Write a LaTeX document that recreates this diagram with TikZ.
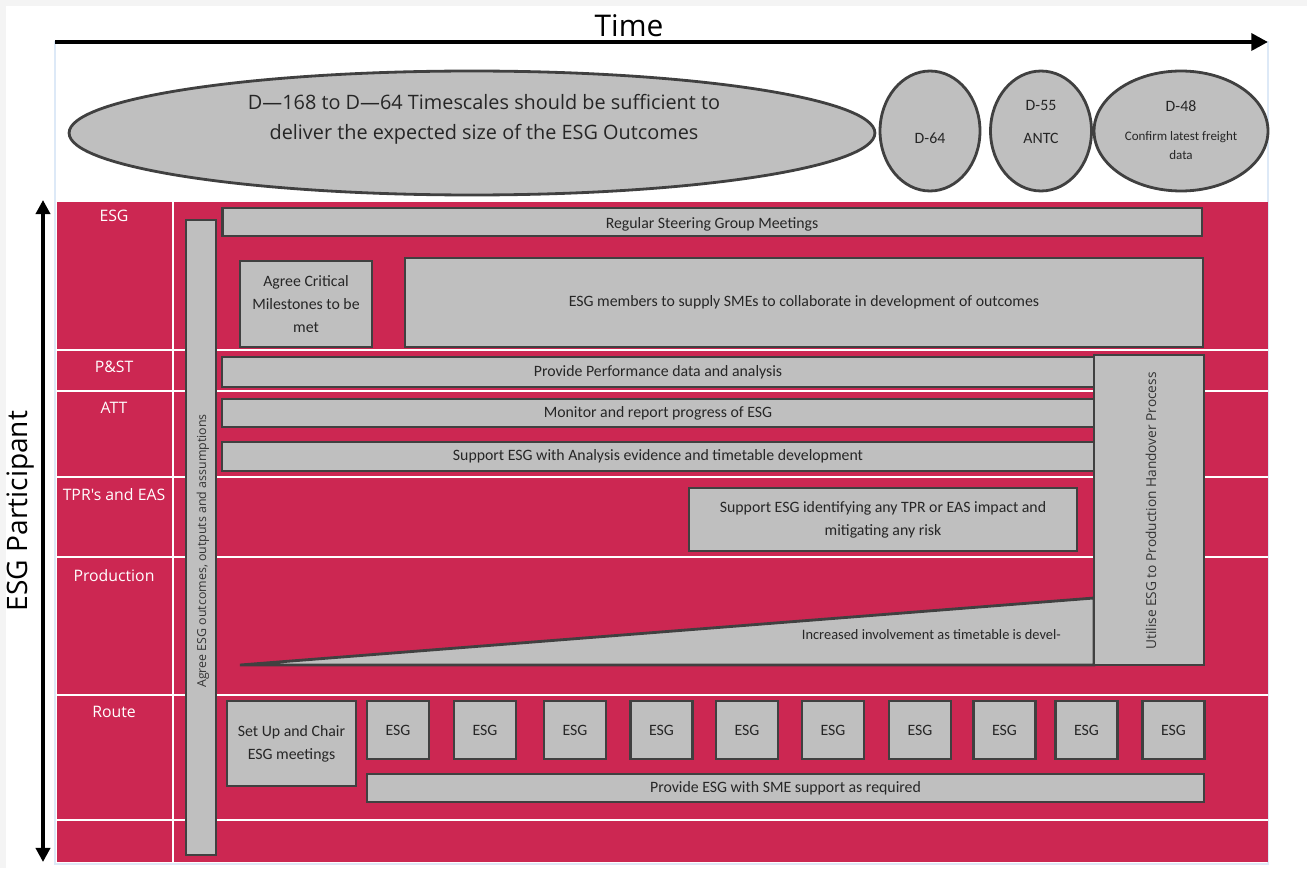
\documentclass[tikz,border=0pt]{standalone}
\usepackage{fontspec}
\setmainfont{Carlito}
\newfontfamily\railfont{Open Sans}
\usetikzlibrary{shapes.geometric,arrows.meta}

\definecolor{esgred}{HTML}{CC2752}
\definecolor{boxgrey}{HTML}{BFBFBF}
\definecolor{boxline}{HTML}{404040}
\definecolor{frameblue}{HTML}{DDE9F7}
\definecolor{pagegrey}{HTML}{F4F4F4}

\tikzset{
	pbox/.style={draw=boxline, fill=boxgrey, line width=1.6pt, inner sep=0pt, align=center, text=black!85, font=\fontsize{9}{13}\selectfont},
	esgbox/.style={pbox, minimum width=1.24cm, minimum height=1.16cm},
	oval/.style={ellipse, draw=boxline, fill=boxgrey, line width=1.6pt, inner sep=0pt},
	ovaltext/.style={align=center, text=black!85},
	rowlabel/.style={anchor=north, text=white, font=\railfont\fontsize{9}{10}\selectfont},
	sidetext/.style={rotate=90, text=black!80},
	rowline/.style={white, line width=1pt},
	timeaxis/.style={line width=2.8pt, -{Triangle[length=9.5pt,width=9.5pt]}},
	partaxis/.style={line width=2.2pt, {Triangle[length=8pt,width=8pt]}-{Triangle[length=8pt,width=8pt]}}
}

\begin{document}
\begin{tikzpicture}[x=0.02cm, y=-0.02cm]
	\useasboundingbox (0,0) rectangle (1307,868);
	\fill[pagegrey] (0,0) rectangle (1307,868);
	\fill[white] (6,6) rectangle (1307,868);
	\draw[frameblue, line width=0.6pt] (55,42) rectangle (1268,864);

	% time axis
	\coordinate (t0) at (55,42);
	\coordinate (t1) at (1268,42);
	\draw[timeaxis] (t0) -- (t1);
	\node[font=\railfont\fontsize{17}{20}\selectfont] (time) at (629,26) {Time};

	% timescale ovals
	\node[oval, minimum width=16.12cm, minimum height=2.48cm] (scale) at (472,133) {};
	\node[ovaltext, font=\railfont\fontsize{11.3}{17}\selectfont] (scaletxt) at (484,119) {D—168 to D—64 Timescales should be sufficient to\\deliver the expected size of the ESG Outcomes};
	\node[oval, minimum width=2.0cm, minimum height=2.4cm] (d64) at (930,131) {};
	\node[ovaltext, font=\fontsize{9}{10}\selectfont] (d64txt) at (930,138) {D-64};
	\node[oval, minimum width=2.02cm, minimum height=2.4cm] (d55) at (1041,131) {};
	\node[ovaltext, font=\fontsize{9}{19}\selectfont] (d55txt) at (1041,122) {D-55\\ANTC};
	\node[oval, minimum width=3.48cm, minimum height=2.4cm] (d48) at (1181,131) {};
	\node[ovaltext, font=\fontsize{7.4}{10.8}\selectfont] (d48txt) at (1181,130) {{\fontsize{9}{10}\selectfont D-48}\\[6pt]Confirm latest freight\\data};

	% participant panel
	\fill[esgred] (57,202) rectangle (1268,862);
	\draw[rowline] (57,350) -- (1268,350);
	\draw[rowline] (57,391) -- (1268,391);
	\draw[rowline] (57,477) -- (1268,477);
	\draw[rowline] (57,557) -- (1268,557);
	\draw[rowline] (57,695) -- (1268,695);
	\draw[rowline] (57,820) -- (1268,820);
	\draw[rowline] (173,202) -- (173,862);

	\coordinate (p0) at (43,862);
	\coordinate (p1) at (43,200);
	\draw[partaxis] (p0) -- (p1);
	\node[rotate=90, font=\railfont\fontsize{16}{18}\selectfont] (participant) at (21,511) {ESG Participant};

	\node[rowlabel] (lesg) at (114,204) {ESG};
	\node[rowlabel] (lpst) at (114,355) {P\&ST};
	\node[rowlabel] (latt) at (114,396) {ATT};
	\node[rowlabel] (ltpr) at (114,482) {TPR's and EAS};
	\node[rowlabel] (lprod) at (114,563) {Production};
	\node[rowlabel] (lroute) at (114,700) {Route};

	% activities
	\node[pbox, minimum width=0.6cm, minimum height=12.7cm] (agree) at (201,537.5) {};
	\node[sidetext, font=\railfont\fontsize{7.05}{8}\selectfont] (agreetxt) at (203,551) {Agree ESG outcomes, outputs and assumptions};
	\node[pbox, minimum width=19.6cm, minimum height=0.56cm, text height=9pt] (steering) at (712,222) {Regular Steering Group Meetings};
	\node[pbox, minimum width=2.64cm, minimum height=1.72cm] (milestones) at (306,304) {Agree Critical\\Milestones to be\\met};
	\node[pbox, minimum width=15.96cm, minimum height=1.78cm] (smes) at (804,302.5) {ESG members to supply SMEs to collaborate in development of outcomes};
	\node[pbox, minimum width=17.44cm, minimum height=0.6cm] (perf) at (658,372) {Provide Performance data and analysis};
	\node[pbox, minimum width=17.44cm, minimum height=0.56cm] (monitor) at (658,413) {Monitor and report progress of ESG};
	\node[pbox, minimum width=17.44cm, minimum height=0.58cm] (analysis) at (658,456.5) {Support ESG with Analysis evidence and timetable development};
	\node[pbox, minimum width=7.76cm, minimum height=1.26cm] (tpr) at (883,519.5) {Support ESG identifying any TPR or EAS impact and\\mitigating any risk};
	\draw[draw=boxline, fill=boxgrey, line width=1.6pt] (240,665) -- (1094,598) -- (1094,665) -- cycle;
	\node[anchor=east, text=black!85, font=\fontsize{8.2}{9}\selectfont] (involve) at (1067,635) {Increased involvement as timetable is devel-};
	\node[pbox, minimum width=2.2cm, minimum height=6.2cm] (handover) at (1149,510) {};
	\node[sidetext, font=\railfont\fontsize{7.8}{9}\selectfont] (handovertxt) at (1151,511) {Utilise ESG to Production Handover Process};

	\node[pbox, minimum width=2.58cm, minimum height=1.7cm] (chair) at (291.5,743.5) {Set Up and Chair\\ESG meetings};
	\node[esgbox] (esg1) at (398,730) {ESG};
	\node[esgbox] (esg2) at (485,730) {ESG};
	\node[esgbox] (esg3) at (575,730) {ESG};
	\node[esgbox] (esg4) at (661.5,730) {ESG};
	\node[esgbox] (esg5) at (747,730) {ESG};
	\node[esgbox] (esg6) at (833,730) {ESG};
	\node[esgbox] (esg7) at (920,730) {ESG};
	\node[esgbox] (esg8) at (1004.5,730) {ESG};
	\node[esgbox] (esg9) at (1086.5,730) {ESG};
	\node[esgbox] (esg10) at (1173.5,730) {ESG};
	\node[pbox, minimum width=16.74cm, minimum height=0.56cm] (sme) at (785.5,788) {Provide ESG with SME support as required};
\end{tikzpicture}
\end{document}
